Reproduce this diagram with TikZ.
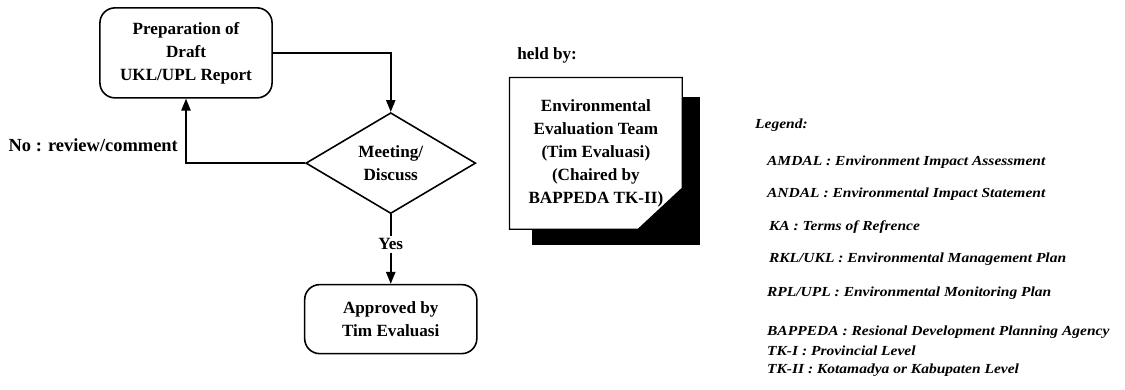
\documentclass[tikz,border=0pt]{standalone}
\usepackage{fontspec}
\setmainfont{Liberation Serif}
\newfontfamily\legendfont[FakeStretch=1.12]{Liberation Serif}
\usepackage{tikz}
\usetikzlibrary{arrows.meta,positioning,shapes.geometric,calc,backgrounds}
\tikzset{
  % flowchart text
  every node/.append style={font=\fontsize{13}{17.5}\selectfont\bfseries},
}

\begin{document}
\begin{tikzpicture}[
        box/.style={draw, line width=1.2pt, rounded corners=0.4cm, minimum width=4.59cm, align=center},
        decision/.style={draw, diamond, aspect=1.7, line width=1.2pt, minimum width=4.53cm, minimum height=2.69cm, inner sep=0pt, align=center},
        teambox/.style={minimum width=4.59cm, minimum height=4.03cm, inner sep=0pt, align=center},
        arrow/.style={-{Triangle[length=9pt,width=7pt]}, line width=1.2pt},
        link/.style={line width=1.2pt},
        legitem/.style={anchor=west, inner sep=0pt, font=\legendfont\fontsize{10.5}{12}\selectfont\bfseries\itshape}
    ]
        \useasboundingbox (0,0) rectangle (30,-10.4);

        % Flow
        \node[box, minimum height=2.4cm] (prep) at (4.96,-1.41) {Preparation of\\Draft\\UKL/UPL Report};
        \node[decision] (meet) at (10.42,-4.35) {Meeting/\\Discuss};
        \node[inner sep=2pt] (yes) at (10.42,-6.51) {Yes};
        \node[box, minimum height=1.84cm] (approved) at (10.42,-8.51) {Approved by\\Tim Evaluasi};
        \node[anchor=east, inner sep=0pt, font=\fontsize{14}{17}\selectfont\bfseries] (no) at (4.75,-3.87) {No : review/comment};

        \draw[arrow] (prep.east) -| (meet.north);
        \draw[arrow] (meet.west) -| (prep.south);
        \draw[link] (meet.south) -- (yes.north);
        \draw[arrow] (yes.south) -- (approved.north);

        % Evaluation team
        \node[anchor=west, inner sep=0pt] (held) at (13.79,-1.47) {held by:};
        \node[teambox] (team) at (15.89,-4.09) {Environmental\\Evaluation Team\\(Tim Evaluasi)\\(Chaired by\\BAPPEDA TK-II)};
        \begin{scope}[on background layer]
            \fill ($(team.north west)+(0.59,-0.51)$) rectangle ($(team.south east)+(0.48,-0.43)$);
            \draw[line width=1pt, fill=white] (team.north west) -- (team.north east)
                -- ($(team.south east)+(0,1.09)$) -- ($(team.south east)+(-1.17,0)$)
                -- (team.south west) -- cycle;
        \end{scope}

        % Legend
        \node[legitem] (leg) at (20.13,-3.33) {Legend:};
        \node[legitem] (amdal) at (20.45,-4.32) {AMDAL : Environment Impact Assessment};
        \node[legitem] (andal) at (20.45,-5.17) {ANDAL : Environmental Impact Statement};
        \node[legitem] (ka) at (20.5,-6.05) {KA : Terms of Refrence};
        \node[legitem] (rkl) at (20.5,-6.91) {RKL/UKL : Environmental Management Plan};
        \node[legitem] (rpl) at (20.45,-7.81) {RPL/UPL : Environmental Monitoring Plan};
        \node[legitem] (bappeda) at (20.45,-8.85) {BAPPEDA : Resional Development Planning Agency};
        \node[legitem] (tki) at (20.45,-9.36) {TK-I : Provincial Level};
        \node[legitem] (tkii) at (20.45,-9.87) {TK-II : Kotamadya or Kabupaten Level};
    \end{tikzpicture}
\end{document}
